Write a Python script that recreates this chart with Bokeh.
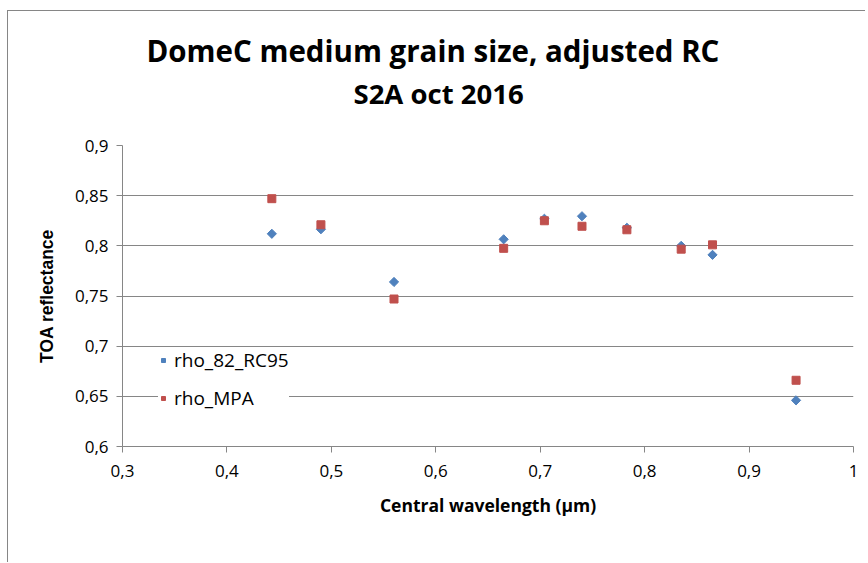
from bokeh.plotting import figure
from bokeh.models import Range1d, FixedTicker, Legend, LegendItem, Title
from bokeh.embed import file_html
from bokeh.resources import INLINE
import math

title_line1 = "DomeC medium grain size, adjusted RC"
title_line2 = "S2A oct 2016"
x_label = "Central wavelength (µm)"
y_label = "TOA reflectance"

wavelength = [0.443, 0.490, 0.560, 0.665, 0.704, 0.740, 0.783, 0.835, 0.865, 0.945]
rho_82_RC95 = [0.812, 0.8165, 0.764, 0.8065, 0.827, 0.8295, 0.818, 0.800, 0.791, 0.646]
rho_MPA = [0.847, 0.821, 0.747, 0.7975, 0.825, 0.8195, 0.816, 0.7967, 0.801, 0.666]

x_ticks = [0.3, 0.4, 0.5, 0.6, 0.7, 0.8, 0.9, 1.0]
x_tick_labels = ["0,3", "0,4", "0,5", "0,6", "0,7", "0,8", "0,9", "1"]
y_ticks = [0.6, 0.65, 0.7, 0.75, 0.8, 0.85, 0.9]
y_tick_labels = ["0,6", "0,65", "0,7", "0,75", "0,8", "0,85", "0,9"]

BLUE = "#4F81BD"
RED = "#C0504D"
GRID = "#868686"
FONT = "Open Sans"

p = figure(width=858, height=552,
           x_range=Range1d(0.3, 1.0), y_range=Range1d(0.6, 0.9),
           output_backend="svg", toolbar_location=None,
           min_border_left=114, min_border_right=13,
           min_border_top=134, min_border_bottom=117)
p.styles = {"border-left": "1px solid #868686", "border-top": "1px solid #868686",
            "margin-left": "7px", "margin-top": "10px"}
p.outline_line_color = None
p.background_fill_color = "white"
p.border_fill_color = "white"

# axes
p.xaxis.ticker = FixedTicker(ticks=x_ticks)
p.yaxis.ticker = FixedTicker(ticks=y_ticks)
p.xaxis.major_label_overrides = dict(zip(x_ticks, x_tick_labels))
p.yaxis.major_label_overrides = dict(zip(y_ticks, y_tick_labels))
for ax in (p.xaxis[0], p.yaxis[0]):
    ax.axis_line_color = GRID
    ax.major_tick_line_color = GRID
    ax.minor_tick_line_color = None
    ax.major_tick_in = 0
    ax.major_tick_out = 6
    ax.major_label_text_font = FONT
    ax.major_label_text_font_size = "17px"
    ax.major_label_text_color = "#000000"
    ax.axis_label_text_color = "#000000"
    ax.axis_label_text_font_style = "bold"

p.xaxis.major_label_standoff = 12
p.yaxis.major_label_standoff = 8
p.xaxis.axis_label = x_label
p.xaxis.axis_label_text_font = FONT
p.xaxis.axis_label_text_font_size = "17.5px"
p.xaxis.axis_label_standoff = 13
p.yaxis.axis_label = y_label
p.yaxis.axis_label_text_font = "Liberation Sans"
p.yaxis.axis_label_text_font_size = "17.5px"
p.yaxis.axis_label_standoff = 15

p.xgrid.grid_line_color = None
p.ygrid.grid_line_color = GRID
p.ygrid.grid_line_width = 1

r1 = p.scatter(wavelength, rho_82_RC95, marker="square", angle=math.pi / 4,
               size=6.5, fill_color=BLUE, line_color=BLUE)
r2 = p.scatter(wavelength, rho_MPA, marker="square",
               size=8, fill_color=RED, line_color=RED)

legend = Legend(items=[LegendItem(label="rho_82_RC95", renderers=[r1]),
                       LegendItem(label="rho_MPA", renderers=[r2])],
                location=(36, 35), orientation="vertical")
legend.background_fill_color = "white"
legend.background_fill_alpha = 1
legend.border_line_color = None
legend.label_text_font = FONT
legend.label_text_font_size = "19px"
legend.label_text_color = "#000000"
legend.glyph_width = 10
legend.glyph_height = 10
legend.label_height = 22
legend.spacing = 12
legend.padding = 10
legend.margin = 0
legend.label_standoff = 6
p.add_layout(legend, "center")

# second title line carries an empty trailing line to lift both lines
t2 = Title(text=title_line2 + "\n", align="left", offset=231, standoff=4,
           text_font=FONT, text_font_style="bold", text_font_size="27.5px",
           text_color="#000000", text_line_height=0.84)
t1 = Title(text=title_line1, align="left", offset=24, standoff=1,
           text_font=FONT, text_font_style="bold", text_font_size="29.5px",
           text_color="#000000")
p.add_layout(t2, "above")
p.add_layout(t1, "above")

open("out.html", "w").write(file_html(p, INLINE))
